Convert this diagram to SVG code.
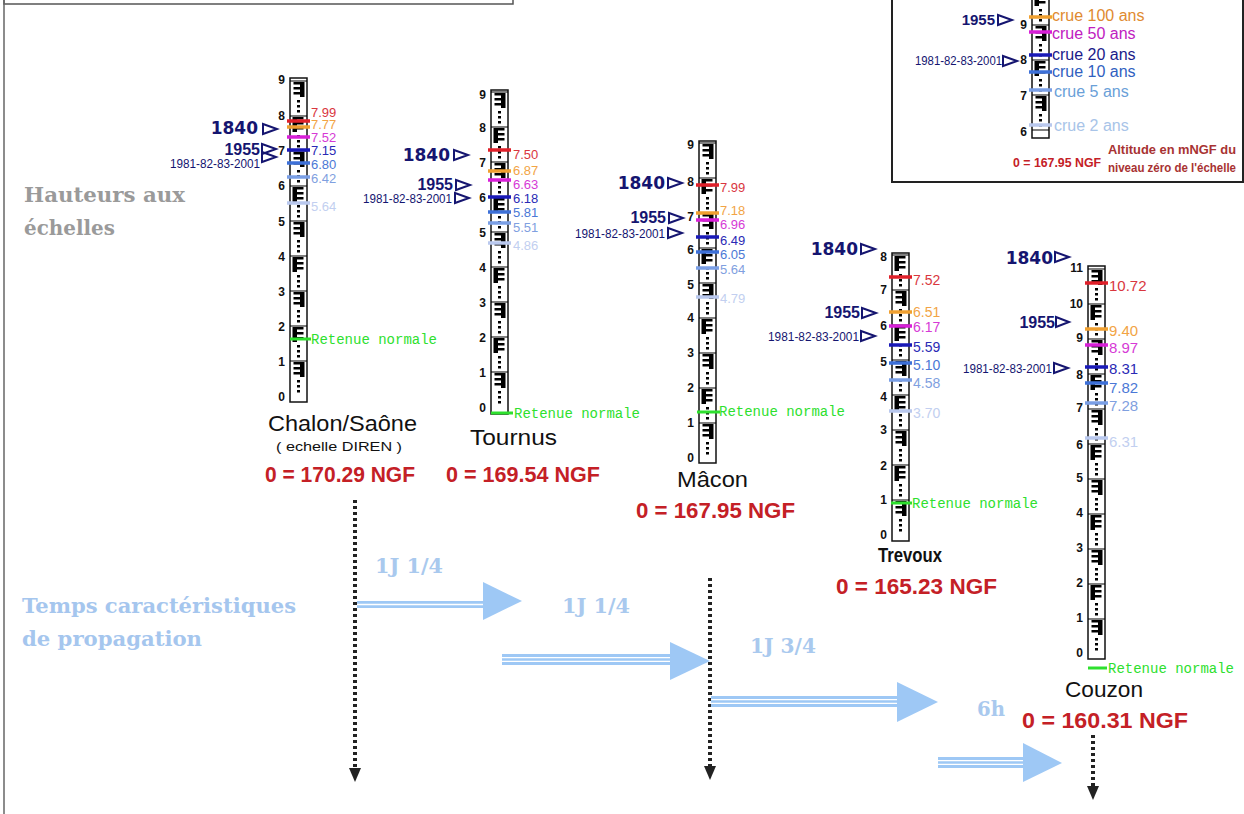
<svg xmlns="http://www.w3.org/2000/svg" xmlns:xlink="http://www.w3.org/1999/xlink" width="1244" height="814" viewBox="0 0 1244 814">
<style>
.gn{font-family:"Liberation Sans",Arial,sans-serif;font-weight:bold;font-size:12px;fill:#111;text-anchor:end}
.frame{fill:#fff;stroke:#111;stroke-width:1.5}
.mk{stroke-width:3.5;fill:none}
.red{stroke:#e0202a}.ora{stroke:#f0a030}.mag{stroke:#d81fd8}.nav{stroke:#1a1ab8}.mid{stroke:#3d70d8}.lig{stroke:#7a9fe6}.pal{stroke:#b9c8ee}
.v{font-family:"Liberation Sans",Arial,sans-serif;font-size:14px}
.vs{font-size:13px}
.tr{fill:#d9363e}.to{fill:#f2a445}.tm{fill:#d63ad6}.tn{fill:#2a2ab5}.td{fill:#4b78d6}.tl{fill:#7fa0e0}.tp{fill:#c2cff0}
.ev1{font-family:"DejaVu Sans",Verdana,sans-serif;font-weight:bold;font-size:17px;fill:#151570;text-anchor:end}
.ev2{font-family:"Liberation Sans",Arial,sans-serif;font-weight:bold;font-size:16px;fill:#151570;text-anchor:end}
.ev3{font-family:"Liberation Sans",Arial,sans-serif;font-size:12.5px;fill:#151570;text-anchor:end}
.tri{fill:none;stroke:#151570;stroke-width:2}
.st{font-family:"Liberation Sans",Arial,sans-serif;font-size:22px;fill:#111}
.ngf{font-family:"Liberation Sans",Arial,sans-serif;font-weight:bold;font-size:22px;fill:#c42026}
.ret{font-family:"Liberation Mono","DejaVu Sans Mono",monospace;font-size:14px;fill:#2ee02e}
.retl{stroke:#2ee02e;stroke-width:3}
.side{font-family:"DejaVu Serif","Liberation Serif",serif;font-weight:bold;font-size:21px}
.tt{font-family:"DejaVu Serif","Liberation Serif",serif;font-weight:bold;font-size:20px;fill:#a9c9ee}
.dot{stroke:#222;stroke-width:4;stroke-dasharray:3 3;fill:none}
.ah{fill:#222}
.bl{fill:#9ec8f5}
.wl{stroke:#fff;stroke-width:1.3}
.lg{font-family:"Liberation Sans",Arial,sans-serif;font-size:16px}
</style>
<defs>
<g id="mR">
<line x1="0" y1="0" x2="17" y2="0" stroke="#000" stroke-width="1"/>
<path d="M10 1h4.5v15H10zM3.5 1H10v2.5H3.5zM3.5 6H10v2.5H3.5zM3.5 11H10v2.5H3.5zM7 19h3v2.5H7zM7 24h3v2.5H7zM7 29h3v2.5H7z" fill="#000"/>
</g>
<g id="mL">
<line x1="0" y1="0" x2="17" y2="0" stroke="#000" stroke-width="1"/>
<path d="M2.5 1H7v15H2.5zM7 1h6.5v2.5H7zM7 6h6.5v2.5H7zM7 11h6.5v2.5H7zM7 19h3v2.5H7zM7 24h3v2.5H7zM7 29h3v2.5H7z" fill="#000"/>
</g>
</defs>
<rect x="0" y="0" width="1244" height="814" fill="#fff"/>

<g id="frames">
<rect x="4" y="-10" width="509" height="14" fill="none" stroke="#555" stroke-width="1.5"/>
<line x1="4" y1="0" x2="4" y2="814" stroke="#666" stroke-width="1.5"/>
</g>

<g id="titles">
<text class="side" x="24" y="202" fill="#9a9a9a" textLength="161" lengthAdjust="spacingAndGlyphs">Hauteurs aux</text>
<text class="side" x="24" y="235" fill="#9a9a9a" textLength="91" lengthAdjust="spacingAndGlyphs">échelles</text>
<text class="side" x="22" y="613" fill="#a5c6ee" textLength="274" lengthAdjust="spacingAndGlyphs">Temps caractéristiques</text>
<text class="side" x="22" y="646" fill="#a5c6ee" textLength="180" lengthAdjust="spacingAndGlyphs">de propagation</text>
</g>

<g id="connectors">
<line class="dot" x1="355" y1="500" x2="355" y2="770"/>
<polygon class="ah" points="349,768 361,768 355,782"/>
<line class="dot" x1="710" y1="578" x2="710" y2="768"/>
<polygon class="ah" points="704,766 716,766 710,780"/>
<line class="dot" x1="1093" y1="735" x2="1093" y2="788"/>
<polygon class="ah" points="1087,786 1099,786 1093,800"/>

<rect class="bl" x="357" y="601" width="128" height="7"/>
<line class="wl" x1="357" y1="604.5" x2="485" y2="604.5"/>
<polygon class="bl" points="483,582 522,601 483,620"/>

<rect class="bl" x="502" y="654" width="170" height="11"/>
<line class="wl" x1="502" y1="657.7" x2="672" y2="657.7"/>
<line class="wl" x1="502" y1="661.3" x2="672" y2="661.3"/>
<polygon class="bl" points="670,642 710,661 670,680"/>

<rect class="bl" x="711" y="696" width="188" height="11"/>
<line class="wl" x1="711" y1="699.7" x2="899" y2="699.7"/>
<line class="wl" x1="711" y1="703.3" x2="899" y2="703.3"/>
<polygon class="bl" points="897,682 938,702 897,722"/>

<rect class="bl" x="938" y="757" width="87" height="11"/>
<line class="wl" x1="938" y1="760.7" x2="1025" y2="760.7"/>
<line class="wl" x1="938" y1="764.3" x2="1025" y2="764.3"/>
<polygon class="bl" points="1023,743 1062,763 1023,782"/>

<text class="tt" x="375" y="573" textLength="68" lengthAdjust="spacingAndGlyphs">1J 1/4</text>
<text class="tt" x="562" y="613" textLength="68" lengthAdjust="spacingAndGlyphs">1J 1/4</text>
<text class="tt" x="750" y="653" textLength="66" lengthAdjust="spacingAndGlyphs">1J 3/4</text>
<text class="tt" x="977" y="716" textLength="28" lengthAdjust="spacingAndGlyphs">6h</text>
</g>

<g id="chalon">
<rect class="frame" x="290" y="78" width="17" height="324"/>
<use href="#mR" x="290" y="361"/><use href="#mL" x="290" y="326"/><use href="#mR" x="290" y="291"/><use href="#mL" x="290" y="256"/><use href="#mR" x="290" y="221"/><use href="#mL" x="290" y="186"/><use href="#mR" x="290" y="151"/><use href="#mL" x="290" y="116"/><use href="#mR" x="290" y="81"/>
<text class="gn" x="285" y="401">0</text><text class="gn" x="285" y="366">1</text><text class="gn" x="285" y="331">2</text><text class="gn" x="285" y="296">3</text><text class="gn" x="285" y="261">4</text><text class="gn" x="285" y="226">5</text><text class="gn" x="285" y="190">6</text><text class="gn" x="285" y="155">7</text><text class="gn" x="285" y="120">8</text><text class="gn" x="285" y="84">9</text>
<line class="mk red" x1="287" y1="121" x2="310" y2="121"/>
<line class="mk ora" x1="287" y1="127" x2="310" y2="127"/>
<line class="mk mag" x1="287" y1="137" x2="310" y2="137"/>
<line class="mk nav" x1="287" y1="150" x2="310" y2="150"/>
<line class="mk mid" x1="287" y1="163" x2="310" y2="163"/>
<line class="mk lig" x1="287" y1="177" x2="310" y2="177"/>
<line class="mk pal" x1="287" y1="203" x2="310" y2="203"/>
<text class="v vs tr" x="311" y="117">7.99</text>
<text class="v vs to" x="311" y="129">7.77</text>
<text class="v vs tm" x="311" y="142">7.52</text>
<text class="v vs tn" x="311" y="155">7.15</text>
<text class="v vs td" x="311" y="169">6.80</text>
<text class="v vs tl" x="311" y="183">6.42</text>
<text class="v vs tp" x="311" y="211">5.64</text>
<text class="ev1" x="258" y="134">1840</text>
<polygon class="tri" points="263,124 277,129 263,134"/>
<text class="ev2" x="260" y="155">1955</text>
<polygon class="tri" points="262,144 276,149 262,154"/>
<polygon class="tri" points="262,152 276,157 262,162"/>
<text class="ev3" x="260" y="168" textLength="90" lengthAdjust="spacingAndGlyphs">1981-82-83-2001</text>
<line class="retl" x1="290" y1="339" x2="311" y2="339"/>
<text class="ret" x="311" y="344">Retenue normale</text>
<text class="st" x="268" y="431" textLength="149" lengthAdjust="spacingAndGlyphs">Chalon/Saône</text>
<text class="st" x="276" y="451" style="font-size:13px" textLength="126" lengthAdjust="spacingAndGlyphs">( echelle DIREN )</text>
<text class="ngf" x="265" y="482" textLength="150" lengthAdjust="spacingAndGlyphs">0 = 170.29 NGF</text>
</g>

<g id="tournus">
<rect class="frame" x="491" y="90" width="17" height="324"/>
<use href="#mR" x="491" y="372"/><use href="#mL" x="491" y="337"/><use href="#mR" x="491" y="302"/><use href="#mL" x="491" y="267"/><use href="#mR" x="491" y="232"/><use href="#mL" x="491" y="197"/><use href="#mR" x="491" y="162"/><use href="#mL" x="491" y="127"/><use href="#mR" x="491" y="92"/>
<text class="gn" x="486" y="412">0</text><text class="gn" x="486" y="377">1</text><text class="gn" x="486" y="342">2</text><text class="gn" x="486" y="307">3</text><text class="gn" x="486" y="272">4</text><text class="gn" x="486" y="237">5</text><text class="gn" x="486" y="202">6</text><text class="gn" x="486" y="167">7</text><text class="gn" x="486" y="132">8</text><text class="gn" x="486" y="99">9</text>
<line class="mk red" x1="488" y1="150" x2="511" y2="150"/>
<line class="mk ora" x1="488" y1="171" x2="511" y2="171"/>
<line class="mk mag" x1="488" y1="180" x2="511" y2="180"/>
<line class="mk nav" x1="488" y1="197" x2="511" y2="197"/>
<line class="mk mid" x1="488" y1="212" x2="511" y2="212"/>
<line class="mk lig" x1="488" y1="223" x2="511" y2="223"/>
<line class="mk pal" x1="488" y1="243" x2="511" y2="243"/>
<text class="v vs tr" x="513" y="159">7.50</text>
<text class="v vs to" x="513" y="175">6.87</text>
<text class="v vs tm" x="513" y="189">6.63</text>
<text class="v vs tn" x="513" y="203">6.18</text>
<text class="v vs td" x="513" y="217">5.81</text>
<text class="v vs tl" x="513" y="232">5.51</text>
<text class="v vs tp" x="513" y="250">4.86</text>
<text class="ev1" x="450" y="161">1840</text>
<polygon class="tri" points="454,150 468,155 454,160"/>
<text class="ev2" x="453" y="190">1955</text>
<polygon class="tri" points="456,180 470,185 456,190"/>
<text class="ev3" x="452" y="203" textLength="89" lengthAdjust="spacingAndGlyphs">1981-82-83-2001</text>
<polygon class="tri" points="455,193 469,198 455,203"/>
<line class="retl" x1="491" y1="413" x2="513" y2="413"/>
<text class="ret" x="514" y="418">Retenue normale</text>
<text class="st" x="470" y="445" textLength="87" lengthAdjust="spacingAndGlyphs">Tournus</text>
<text class="ngf" x="446" y="482" textLength="154" lengthAdjust="spacingAndGlyphs">0 = 169.54 NGF</text>
</g>

<g id="macon">
<rect class="frame" x="699" y="141" width="17" height="322"/>
<use href="#mR" x="699" y="423"/><use href="#mL" x="699" y="388"/><use href="#mR" x="699" y="353"/><use href="#mL" x="699" y="318"/><use href="#mR" x="699" y="283"/><use href="#mL" x="699" y="248"/><use href="#mR" x="699" y="213"/><use href="#mL" x="699" y="178"/><use href="#mR" x="699" y="143"/>
<text class="gn" x="694" y="462">0</text><text class="gn" x="694" y="427">1</text><text class="gn" x="694" y="392">2</text><text class="gn" x="694" y="357">3</text><text class="gn" x="694" y="322">4</text><text class="gn" x="694" y="289">5</text><text class="gn" x="694" y="254">6</text><text class="gn" x="694" y="221">7</text><text class="gn" x="694" y="186">8</text><text class="gn" x="694" y="149">9</text>
<line class="mk red" x1="696" y1="185" x2="719" y2="185"/>
<line class="mk ora" x1="696" y1="213" x2="719" y2="213"/>
<line class="mk mag" x1="696" y1="220" x2="719" y2="220"/>
<line class="mk nav" x1="696" y1="237" x2="719" y2="237"/>
<line class="mk mid" x1="696" y1="252" x2="719" y2="252"/>
<line class="mk lig" x1="696" y1="268" x2="719" y2="268"/>
<line class="mk pal" x1="696" y1="297" x2="719" y2="297"/>
<text class="v vs tr" x="720" y="192">7.99</text>
<text class="v vs to" x="720" y="215">7.18</text>
<text class="v vs tm" x="720" y="229">6.96</text>
<text class="v vs tn" x="720" y="245">6.49</text>
<text class="v vs td" x="720" y="259">6.05</text>
<text class="v vs tl" x="720" y="274">5.64</text>
<text class="v vs tp" x="720" y="303">4.79</text>
<text class="ev1" x="665" y="189">1840</text>
<polygon class="tri" points="668,178 682,183 668,188"/>
<text class="ev2" x="666" y="223">1955</text>
<polygon class="tri" points="669,213 683,218 669,223"/>
<text class="ev3" x="665" y="238" textLength="90" lengthAdjust="spacingAndGlyphs">1981-82-83-2001</text>
<polygon class="tri" points="668,228 682,233 668,238"/>
<line class="retl" x1="697" y1="412" x2="720" y2="412"/>
<text class="ret" x="719" y="416">Retenue normale</text>
<text class="st" x="677" y="487" textLength="71" lengthAdjust="spacingAndGlyphs">Mâcon</text>
<text class="ngf" x="636" y="518" textLength="159" lengthAdjust="spacingAndGlyphs">0 = 167.95 NGF</text>
</g>

<g id="trevoux">
<rect class="frame" x="892" y="253" width="17" height="288"/>
<use href="#mR" x="892" y="500"/><use href="#mL" x="892" y="465"/><use href="#mR" x="892" y="430"/><use href="#mL" x="892" y="395"/><use href="#mR" x="892" y="360"/><use href="#mL" x="892" y="325"/><use href="#mR" x="892" y="290"/><use href="#mL" x="892" y="255"/>
<text class="gn" x="887" y="539">0</text><text class="gn" x="887" y="504">1</text><text class="gn" x="887" y="470">2</text><text class="gn" x="887" y="434">3</text><text class="gn" x="887" y="401">4</text><text class="gn" x="887" y="366">5</text><text class="gn" x="887" y="330">6</text><text class="gn" x="887" y="294">7</text><text class="gn" x="887" y="261">8</text>
<line class="mk red" x1="889" y1="277" x2="912" y2="277"/>
<line class="mk ora" x1="889" y1="312" x2="912" y2="312"/>
<line class="mk mag" x1="889" y1="326" x2="912" y2="326"/>
<line class="mk nav" x1="889" y1="345" x2="912" y2="345"/>
<line class="mk mid" x1="889" y1="363" x2="912" y2="363"/>
<line class="mk lig" x1="889" y1="380" x2="912" y2="380"/>
<line class="mk pal" x1="889" y1="411" x2="912" y2="411"/>
<text class="v tr" x="913" y="285">7.52</text>
<text class="v to" x="913" y="317">6.51</text>
<text class="v tm" x="913" y="332">6.17</text>
<text class="v tn" x="913" y="352">5.59</text>
<text class="v td" x="913" y="370">5.10</text>
<text class="v tl" x="913" y="388">4.58</text>
<text class="v tp" x="913" y="418">3.70</text>
<text class="ev1" x="858" y="255">1840</text>
<polygon class="tri" points="861,244 875,249 861,254"/>
<text class="ev2" x="860" y="318">1955</text>
<polygon class="tri" points="862,308 876,313 862,318"/>
<text class="ev3" x="859" y="341" textLength="91" lengthAdjust="spacingAndGlyphs">1981-82-83-2001</text>
<polygon class="tri" points="861,331 875,336 861,341"/>
<line class="retl" x1="891" y1="503" x2="912" y2="503"/>
<text class="ret" x="912" y="508">Retenue normale</text>
<text class="st" x="878" y="562" style="font-weight:bold;font-size:20px" textLength="64" lengthAdjust="spacingAndGlyphs">Trevoux</text>
<text class="ngf" x="836" y="594" textLength="161" lengthAdjust="spacingAndGlyphs">0 = 165.23 NGF</text>
</g>

<g id="couzon">
<rect class="frame" x="1088" y="266" width="17" height="393"/>
<use href="#mR" x="1088" y="619"/><use href="#mL" x="1088" y="584"/><use href="#mR" x="1088" y="549"/><use href="#mL" x="1088" y="514"/><use href="#mR" x="1088" y="479"/><use href="#mL" x="1088" y="444"/><use href="#mR" x="1088" y="409"/><use href="#mL" x="1088" y="374"/><use href="#mR" x="1088" y="339"/><use href="#mL" x="1088" y="304"/><use href="#mR" x="1088" y="269"/>
<text class="gn" x="1083" y="657">0</text><text class="gn" x="1083" y="622">1</text><text class="gn" x="1083" y="587">2</text><text class="gn" x="1083" y="552">3</text><text class="gn" x="1083" y="517">4</text><text class="gn" x="1083" y="482">5</text><text class="gn" x="1083" y="449">6</text><text class="gn" x="1083" y="412">7</text><text class="gn" x="1083" y="379">8</text><text class="gn" x="1083" y="342">9</text><text class="gn" x="1083" y="308">10</text><text class="gn" x="1083" y="272">11</text>
<line class="mk red" x1="1085" y1="283" x2="1108" y2="283"/>
<line class="mk ora" x1="1085" y1="329" x2="1108" y2="329"/>
<line class="mk mag" x1="1085" y1="345" x2="1108" y2="345"/>
<line class="mk nav" x1="1085" y1="367" x2="1108" y2="367"/>
<line class="mk mid" x1="1085" y1="383" x2="1108" y2="383"/>
<line class="mk lig" x1="1085" y1="403" x2="1108" y2="403"/>
<line class="mk pal" x1="1085" y1="438" x2="1108" y2="438"/>
<text class="v tr" x="1109" y="291" style="font-size:15px">10.72</text>
<text class="v to" x="1109" y="336" style="font-size:15px">9.40</text>
<text class="v tm" x="1109" y="353" style="font-size:15px">8.97</text>
<text class="v tn" x="1109" y="374" style="font-size:15px">8.31</text>
<text class="v td" x="1109" y="393" style="font-size:15px">7.82</text>
<text class="v tl" x="1109" y="411" style="font-size:15px">7.28</text>
<text class="v tp" x="1109" y="447" style="font-size:15px">6.31</text>
<text class="ev1" x="1053" y="264">1840</text>
<polygon class="tri" points="1055,252 1069,257 1055,262"/>
<text class="ev2" x="1055" y="328">1955</text>
<polygon class="tri" points="1056,317 1069,322 1056,327"/>
<text class="ev3" x="1052" y="373" textLength="89" lengthAdjust="spacingAndGlyphs">1981-82-83-2001</text>
<polygon class="tri" points="1054,363 1068,368 1054,373"/>
<line class="retl" x1="1088" y1="668" x2="1107" y2="668"/>
<text class="ret" x="1108" y="673">Retenue normale</text>
<text class="st" x="1065" y="697" textLength="78" lengthAdjust="spacingAndGlyphs">Couzon</text>
<text class="ngf" x="1022" y="728" textLength="166" lengthAdjust="spacingAndGlyphs">0 = 160.31 NGF</text>
</g>

<g id="legend">
<rect x="892" y="-10" width="351" height="192" fill="#fff" stroke="#222" stroke-width="2"/>
<rect class="frame" x="1032" y="-12" width="17" height="150"/>
<use href="#mR" x="1032" y="95"/><use href="#mL" x="1032" y="60"/><use href="#mR" x="1032" y="25"/><use href="#mL" x="1032" y="-10"/>
<line x1="1032" y1="130" x2="1049" y2="130" stroke="#000"/>
<text class="gn" x="1027" y="136">6</text><text class="gn" x="1027" y="100">7</text><text class="gn" x="1027" y="64">8</text><text class="gn" x="1027" y="29">9</text>
<line class="mk ora" x1="1029" y1="17" x2="1052" y2="17"/>
<line class="mk mag" x1="1029" y1="32" x2="1052" y2="32"/>
<line class="mk nav" x1="1029" y1="55" x2="1052" y2="55"/>
<line class="mk mid" x1="1029" y1="72" x2="1052" y2="72"/>
<line class="mk lig" x1="1029" y1="90" x2="1052" y2="90"/>
<line class="mk pal" x1="1029" y1="125" x2="1052" y2="125"/>
<text class="lg" x="1052" y="21" fill="#e08a30">crue 100 ans</text>
<text class="lg" x="1052" y="39" fill="#c020c0">crue 50 ans</text>
<text class="lg" x="1052" y="60" fill="#1a1a8a">crue 20 ans</text>
<text class="lg" x="1052" y="77" fill="#3060c0">crue 10 ans</text>
<text class="lg" x="1054" y="97" fill="#6aa0d8">crue 5 ans</text>
<text class="lg" x="1054" y="131" fill="#a8c4e8">crue 2 ans</text>
<text class="ev2" x="995" y="25" style="font-size:15px">1955</text>
<polygon class="tri" points="998,15 1012,20 998,25"/>
<text class="ev3" x="1002" y="65" style="font-size:12px" textLength="87" lengthAdjust="spacingAndGlyphs">1981-82-83-2001</text>
<polygon class="tri" points="1003,56 1017,61 1003,66"/>
<text class="ngf" x="1013" y="167" style="font-size:13px" textLength="88" lengthAdjust="spacingAndGlyphs">0 = 167.95 NGF</text>
<text class="ngf" x="1108" y="154" style="font-size:13px;fill:#a83232" textLength="128" lengthAdjust="spacingAndGlyphs">Altitude en mNGF du</text>
<text class="ngf" x="1108" y="172" style="font-size:13px;fill:#a83232" textLength="128" lengthAdjust="spacingAndGlyphs">niveau zéro de l'échelle</text>
</g>
</svg>
